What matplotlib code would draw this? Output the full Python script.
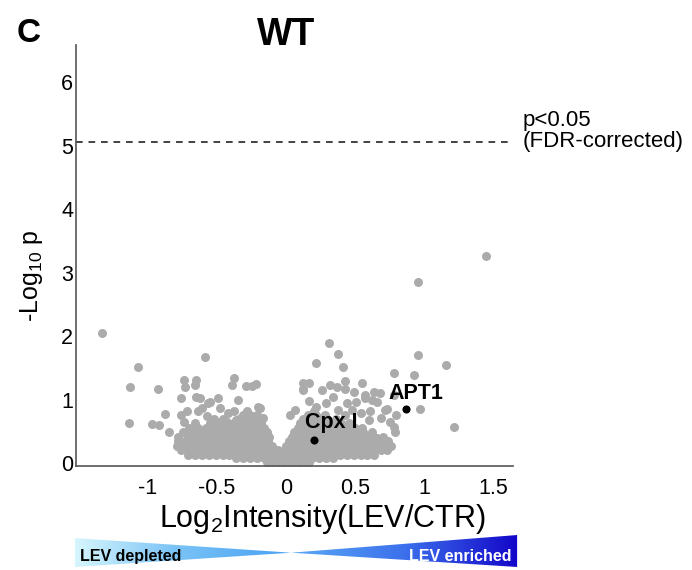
import matplotlib
matplotlib.use("Agg")
import matplotlib.pyplot as plt
import numpy as np
from matplotlib.colors import LinearSegmentedColormap
from matplotlib.patches import Polygon

plt.rcParams["font.family"] = "Liberation Sans"
plt.rcParams["mathtext.fontset"] = "custom"
plt.rcParams["mathtext.rm"] = "Liberation Sans"
plt.rcParams["axes.unicode_minus"] = False

# --- data ------------------------------------------------------------------
# dense cloud, one list of log2 ratios per -log10 p row
CLOUD_Y = [0.02, 0.08, 0.14, 0.21, 0.28, 0.35, 0.42, 0.49, 0.56, 0.63, 0.70, 0.77, 0.83]
CLOUD_X = [
    [-0.14, -0.10, -0.06, -0.02, 0.02, 0.06, 0.10, 0.14, 0.17],
    [-0.36, -0.31, -0.26, -0.21, -0.16, -0.11, -0.06, -0.01, 0.04, 0.09, 0.14, 0.19,
     0.24, 0.29, 0.34],
    [-0.71, -0.66, -0.61, -0.56, -0.51, -0.46, -0.41, -0.36, -0.31, -0.26, -0.21, -0.16,
     -0.11, -0.06, -0.01, 0.04, 0.09, 0.14, 0.19, 0.24, 0.29, 0.34, 0.39, 0.44, 0.49,
     0.54, 0.59, 0.64],
    [-0.76, -0.71, -0.66, -0.61, -0.56, -0.51, -0.46, -0.41, -0.36, -0.31, -0.26, -0.21,
     -0.16, -0.11, -0.06, -0.01, 0.04, 0.09, 0.14, 0.19, 0.24, 0.29, 0.34, 0.39, 0.44,
     0.49, 0.54, 0.59, 0.64, 0.69, 0.73],
    [-0.79, -0.74, -0.69, -0.64, -0.59, -0.54, -0.49, -0.44, -0.39, -0.34, -0.29, -0.24,
     -0.19, -0.14, -0.10, 0.00, 0.05, 0.10, 0.15, 0.20, 0.25, 0.30, 0.35, 0.40, 0.45,
     0.50, 0.55, 0.60, 0.65, 0.70, 0.76],
    [-0.78, -0.73, -0.68, -0.63, -0.58, -0.53, -0.48, -0.43, -0.38, -0.33, -0.28, -0.23,
     -0.18, -0.13, 0.02, 0.07, 0.12, 0.17, 0.22, 0.27, 0.32, 0.37, 0.42, 0.47, 0.52,
     0.57, 0.62, 0.67, 0.74],
    [-0.78, -0.71, -0.66, -0.61, -0.56, -0.51, -0.46, -0.41, -0.36, -0.31, -0.26, -0.21,
     -0.16, -0.12, 0.04, 0.09, 0.14, 0.19, 0.24, 0.29, 0.34, 0.39, 0.44, 0.49, 0.54,
     0.59, 0.64, 0.70],
    [-0.75, -0.69, -0.64, -0.59, -0.54, -0.49, -0.44, -0.39, -0.34, -0.29, -0.24, -0.19,
     -0.14, 0.06, 0.11, 0.16, 0.21, 0.26, 0.31, 0.36, 0.41, 0.46, 0.51, 0.56, 0.62],
    [-0.70, -0.64, -0.58, -0.52, -0.46, -0.40, -0.35, -0.30, -0.25, -0.20, -0.16, 0.09,
     0.14, 0.19, 0.24, 0.29, 0.34, 0.39, 0.44, 0.50, 0.55],
    [-0.66, -0.55, -0.49, -0.44, -0.38, -0.33, -0.28, -0.23, -0.18, 0.10, 0.15, 0.20,
     0.25, 0.30, 0.35, 0.40, 0.46],
    [-0.52, -0.46, -0.34, -0.29, -0.24, -0.19, 0.12, 0.18, 0.24, 0.30, 0.36],
    [-0.31, -0.26, -0.21, 0.16, 0.22, 0.28],
    [-0.28, 0.20],
]

# scattered proteins outside the cloud
OUT_X = [-1.33, -1.07, -1.13, -1.14, -0.925, -0.97, -0.92, -0.88, -0.85, -0.59,
         -0.74, -0.73, -0.65, -0.66, -0.76, -0.65, -0.62, -0.565, -0.49, -0.38,
         -0.39, -0.35, -0.29, -0.25, -0.22, -0.20, 0.03, 0.31, 0.22, 0.38,
         0.41, 0.125, 0.17, 0.125, 0.26, 0.32, 0.37, 0.43, 0.43, 0.55,
         0.49, 0.57, 0.64, 0.68, 0.78, 0.93, 0.96, 1.45, 0.96, 1.16,
         0.97, 1.22, 0.78, 0.72, 0.69, 0.75, 0.78, 0.79, 0.61, 0.60,
         0.74, 0.17, 0.22, 0.29, 0.34, 0.44, 0.51, 0.48, -0.61, -0.55,
         -0.48, -0.635, -0.72, -0.76, -0.74, -0.575, -0.42, -0.38, -0.43, -0.36,
         -0.225, -0.19, -0.165, 0.57, 0.62, 0.66, 0.73, 0.80, 0.54, 0.38,
         0.43, 0.065, 0.70, 0.66, 0.125]
OUT_Y = [2.05, 1.52, 1.21, 0.64, 1.18, 0.62, 0.60, 0.78, 0.50, 1.68,
         1.31, 1.21, 1.31, 1.24, 1.03, 1.04, 1.03, 0.95, 1.03, 1.35,
         1.24, 1.00, 1.22, 1.22, 1.25, 0.89, 0.77, 1.89, 1.58, 1.72,
         1.52, 1.27, 1.26, 1.16, 1.15, 1.24, 1.21, 1.30, 1.18, 1.26,
         1.13, 1.08, 1.13, 1.11, 1.43, 1.39, 2.86, 3.26, 1.71, 1.55,
         0.85, 0.58, 1.08, 0.84, 0.71, 0.66, 0.58, 0.49, 0.82, 0.68,
         0.29, 0.99, 0.89, 0.95, 1.05, 0.96, 0.97, 0.84, 0.87, 0.97,
         0.87, 0.82, 0.82, 0.76, 0.66, 0.74, 0.79, 0.82, 0.66, 0.69,
         0.74, 0.87, 0.71, 1.03, 1.00, 0.97, 0.85, 0.76, 0.79, 0.84,
         0.76, 0.84, 0.26, 0.40, 1.18]

HIT_NAMES = ["Cpx I", "APT1"]
HIT_X = [0.20, 0.87]
HIT_Y = [0.37, 0.86]

FDR_LINE = 5.07
XTICKS = [-1, -0.5, 0, 0.5, 1, 1.5]
XTICK_LABELS = ["-1", "-0.5", "0", "0.5", "1", "1.5"]
YTICKS = [0, 1, 2, 3, 4, 5, 6]

GRAY = "#ababab"
SPINE = "#555555"
DOT = 42

# --- figure ------------------------------------------------------------------
fig = plt.figure(figsize=(6.92, 5.70), dpi=100)
ax = fig.add_axes([76 / 692, 104 / 570, 437 / 692, 421 / 570])

cx = np.concatenate([np.asarray(r, float) for r in CLOUD_X])
cy = np.concatenate([np.full(len(r), y) for r, y in zip(CLOUD_X, CLOUD_Y)])
ax.scatter(cx, cy, s=DOT, color=GRAY, linewidths=0, zorder=2)
ax.scatter(OUT_X, OUT_Y, s=DOT, color=GRAY, linewidths=0, zorder=2)
ax.scatter(HIT_X, HIT_Y, s=34, color="black", linewidths=0, zorder=4)

offsets = [(-6.5, 8.6), (-13, 7.2)]
for name, x, y, off in zip(HIT_NAMES, HIT_X, HIT_Y, offsets):
    ax.annotate(name, (x, y), xytext=off, textcoords="offset points",
                fontsize=15.5, fontweight="bold", ha="left", va="baseline", zorder=5)

ax.axhline(FDR_LINE, color="#222222", lw=1.2, linestyle=(0, (4, 3.5)), zorder=1)
ax.text(1.717, FDR_LINE + 0.17, "p<0.05\n(FDR-corrected)", fontsize=16,
        ha="left", va="center", linespacing=1.0, clip_on=False)

ax.set_xlim(-1.522, 1.645)
ax.set_ylim(-0.04, 6.59)
ax.set_xticks(XTICKS)
ax.set_xticklabels(XTICK_LABELS)
ax.set_yticks(YTICKS)
ax.tick_params(axis="both", length=0, labelsize=15.5)
ax.tick_params(axis="x", pad=9)
ax.tick_params(axis="y", pad=2)
for side in ["top", "right"]:
    ax.spines[side].set_visible(False)
for side in ["left", "bottom"]:
    ax.spines[side].set_color(SPINE)
    ax.spines[side].set_linewidth(1.2)

ax.set_xlabel(r"Log$_{\mathregular{2}}$Intensity(LEV/CTR)", fontsize=22)
ax.xaxis.set_label_coords(0.565, -0.085)
ax.set_ylabel(r"-Log$_{\mathregular{10}}$ p", fontsize=18)
ax.yaxis.set_label_coords(-0.071, 0.451)

fig.text(286 / 692, 1 - 45 / 570, "WT", fontsize=27, fontweight="bold",
         ha="center", va="baseline")
fig.text(17 / 692, 1 - 42 / 570, "C", fontsize=24, fontweight="bold",
         ha="left", va="baseline")

# --- depleted / enriched gradient bar ---------------------------------------
bar = fig.add_axes([73 / 692, 2 / 570, 445 / 692, 34 / 570])
bar.axis("off")

left_cmap = LinearSegmentedColormap.from_list(
    "dep", [(0, "#d6f6fd"), (0.45, "#7cc4f6"), (1, "#44a0f3")])
right_cmap = LinearSegmentedColormap.from_list(
    "enr", [(0, "#5aaaf6"), (0.5, "#3c70ec"), (1, "#1306c9")])
tip = 0.49
left_tri = Polygon([(0.004, 0.88), (0.004, 0.03), (tip, 0.45)], closed=True,
                   facecolor="none", edgecolor="none")
right_tri = Polygon([(tip, 0.45), (0.998, 0.03), (0.998, 0.97)], closed=True,
                    facecolor="none", edgecolor="none")
bar.add_patch(left_tri)
bar.add_patch(right_tri)
grad = np.linspace(0, 1, 256).reshape(1, -1)
im1 = bar.imshow(grad, cmap=left_cmap, extent=[0.004, tip, 0, 1], aspect="auto")
im1.set_clip_path(left_tri)
im2 = bar.imshow(grad, cmap=right_cmap, extent=[tip, 0.998, 0, 1], aspect="auto")
im2.set_clip_path(right_tri)
bar.set_xlim(0, 1)
bar.set_ylim(0, 1)

bar.text(0.016, 0.2, "LEV depleted", fontsize=11.5, fontweight="bold",
         color="black", ha="left", va="baseline")
bar.text(0.986, 0.2, "LEV enriched", fontsize=11.5, fontweight="bold",
         color="white", ha="right", va="baseline")

fig.savefig("out.png", dpi=100)
